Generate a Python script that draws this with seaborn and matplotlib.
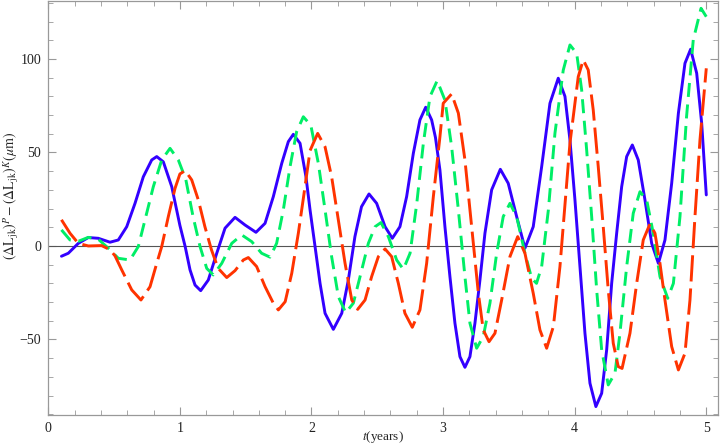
import numpy as np
import pandas as pd
import matplotlib
matplotlib.use("Agg")
import matplotlib.pyplot as plt
import seaborn as sns

# values (t in years, difference in micrometres)
t_blue = [0.1, 0.152, 0.228, 0.304, 0.38, 0.469, 0.532, 0.596, 0.659, 0.722, 0.786, 0.824,
          0.874, 0.938, 1.0, 1.04, 1.077, 1.115, 1.158, 1.216, 1.28, 1.343, 1.419, 1.495,
          1.578, 1.647, 1.71, 1.774, 1.824, 1.862, 1.913, 1.958, 1.989, 2.027, 2.065, 2.103,
          2.166, 2.23, 2.28, 2.33, 2.38, 2.437, 2.495, 2.559, 2.614, 2.672, 2.723, 2.774,
          2.824, 2.868, 2.913, 2.942, 2.976, 3.014, 3.052, 3.09, 3.128, 3.166, 3.204, 3.242,
          3.28, 3.318, 3.369, 3.435, 3.495, 3.559, 3.622, 3.685, 3.749, 3.812, 3.875, 3.926,
          3.964, 4.002, 4.04, 4.078, 4.116, 4.161, 4.205, 4.243, 4.281, 4.319, 4.357, 4.395,
          4.438, 4.483, 4.534, 4.585, 4.636, 4.686, 4.737, 4.788, 4.838, 4.881, 4.927, 4.965, 5.0]
v_blue = [-5.5, -3.9, 1.4, 4.5, 4.1, 2.0, 3.2, 10.3, 22.8, 37, 46, 47.8,
          45, 31.7, 11, -0.3, -12.8, -20.9, -23.9, -18.2, -3.9, 9.5, 15.3, 11.2,
          7.3, 12.1, 26.4, 44.2, 55.8, 59.7, 54.9, 37, 19.3, -0.3, -20, -36,
          -44.6, -36, -18.2, 5, 21, 27.8, 22.8, 10.3, 4.1, 10.3, 26.4, 49.6,
          67.4, 74.2, 67.4, 58, 40.6, 10.3, -16.4, -41.3, -59.2, -64.9, -59.2, -41.3,
          -18.2, 6.8, 30, 41, 33.5, 15.7, -1.2, 10.3, 42.4, 76.3, 89.7, 80,
          56.7, 24.6, -11, -46.7, -73.4, -85.9, -78.8, -55.6, -20, 6.8, 31.7, 47.8,
          54, 46, 24.6, 1.4, -9.3, 3.2, 33.5, 71, 97.7, 105.2, 92.4, 65.6, 27.3]

t_red = [0.1, 0.165, 0.228, 0.304, 0.405, 0.469, 0.507, 0.558, 0.634, 0.704, 0.773, 0.824,
         0.862, 0.912, 0.963, 1.0, 1.04, 1.09, 1.14, 1.19, 1.24, 1.29, 1.356, 1.419,
         1.482, 1.52, 1.583, 1.647, 1.71, 1.748, 1.8, 1.85, 1.9, 1.94, 1.989, 2.047,
         2.103, 2.153, 2.204, 2.255, 2.306, 2.351, 2.407, 2.457, 2.508, 2.559, 2.609, 2.66,
         2.71, 2.766, 2.824, 2.875, 2.926, 2.976, 3.001, 3.065, 3.116, 3.166, 3.217, 3.268,
         3.305, 3.349, 3.394, 3.445, 3.508, 3.567, 3.622, 3.685, 3.736, 3.787, 3.838, 3.888,
         3.926, 3.964, 4.027, 4.065, 4.103, 4.141, 4.179, 4.217, 4.255, 4.293, 4.331, 4.36,
         4.42, 4.471, 4.521, 4.572, 4.61, 4.648, 4.686, 4.737, 4.788, 4.838, 4.876, 4.914,
         4.952, 5.0]
v_red = [14, 6.8, 1.4, 0, 0.2, -2, -5.3, -12.8, -23.5, -28.9, -21.8, -9.3,
         -0.3, 15.7, 30.8, 38.5, 40.3, 35.3, 24.6, 10.3, -2.1, -11.9, -16.9, -13.2,
         -7.5, -6.2, -11, -21.7, -30.6, -34.2, -29.8, -14.6, 6.8, 26.4, 51, 60.2,
         53, 37, 13.9, -9.3, -28.9, -33.9, -28.9, -16.4, -5.7, -1.6, -5.7, -20,
         -36, -43.5, -34.2, -9.3, 26.4, 58.4, 76.3, 81.3, 71, 46, 10.3, -25.3,
         -44.9, -51.2, -46.7, -28.9, -5.7, 5, -3.9, -25.3, -44.9, -54.7, -43.1, -11,
         22, 55, 90.5, 99.5, 94.1, 72.7, 42.4, 10.3, -23.5, -52, -64.5, -65.5,
         -46.7, -20, 3.2, 11.8, 6.8, -9.3, -28.9, -53.8, -66.3, -57.4, -28.9, 15.7,
         56.7, 95]

t_green = [0.1, 0.165, 0.228, 0.304, 0.38, 0.456, 0.532, 0.621, 0.684, 0.735, 0.798, 0.862,
           0.925, 0.988, 1.045, 1.1, 1.153, 1.204, 1.254, 1.318, 1.394, 1.47, 1.546, 1.621,
           1.685, 1.735, 1.786, 1.837, 1.887, 1.938, 1.995, 2.052, 2.103, 2.153, 2.204, 2.26,
           2.318, 2.369, 2.432, 2.483, 2.528, 2.584, 2.647, 2.698, 2.749, 2.8, 2.85, 2.9,
           2.955, 3.014, 3.065, 3.116, 3.166, 3.204, 3.255, 3.305, 3.356, 3.407, 3.457, 3.508,
           3.559, 3.622, 3.673, 3.71, 3.749, 3.8, 3.85, 3.913, 3.964, 4.015, 4.053, 4.091,
           4.129, 4.167, 4.205, 4.255, 4.306, 4.344, 4.395, 4.445, 4.496, 4.547, 4.597, 4.648,
           4.707, 4.75, 4.8, 4.85, 4.901, 4.96, 5.0]
v_green = [8.6, 3.2, 2.5, 4.6, 3.6, -1.2, -6.6, -7.5, -0.3, 14, 31.7, 46,
           52.2, 46, 35.5, 15.7, -0.3, -12, -15.5, -9.3, 1.4, 5.9, 2.3, -3.9,
           -6, 1.4, 19.3, 42.4, 61.1, 69.1, 64.5, 44.2, 19.3, -5.7, -27.1, -35.7,
           -30.6, -16.4, 1.4, 10.3, 12.5, 5, -7.5, -12.5, -3.9, 22.8, 54.9, 79.8,
           88.4, 78, 53, 19.3, -16.4, -41.3, -54.7, -48.5, -30.6, -3.9, 15.7, 22.8,
           15.7, -3.9, -17.3, -20, -11, 19.3, 60.3, 94, 107.5, 103, 83.4, 51.3,
           15.7, -23.5, -55.6, -74.3, -68.1, -46.7, -11, 17.5, 29, 24.6, 6.8, -16.4,
           -28, -20, 15.7, 69.1, 110.2, 127.1, 122.6]

x_ticks = [0, 1, 2, 3, 4, 5]
y_ticks = [-50, 0, 50, 100]

sns.set_style("ticks")
plt.rcParams['font.family'] = ['Liberation Serif', 'DejaVu Serif']
plt.rcParams['mathtext.fontset'] = 'stix'

fig = plt.figure(figsize=(7.2, 4.47), dpi=100)
ax = fig.add_axes([48.3 / 720, 32 / 447, (718 - 48.3) / 720, 414 / 447])

ax.axhline(0, color='#555555', lw=0.8, zorder=1)

sns.lineplot(x=t_blue, y=v_blue, color='#3300ff', linewidth=2.1, estimator=None,
             sort=False, ax=ax)
sns.lineplot(x=t_green, y=v_green, color='#00ee66', linewidth=2.1, estimator=None,
             sort=False, linestyle=(0, (4.8, 2.6)), ax=ax)
sns.lineplot(x=t_red, y=v_red, color='#ff3300', linewidth=2.1, estimator=None,
             sort=False, linestyle=(0, (9, 2.4)), ax=ax)

ax.set_xlim(0, 5.089)
ax.set_ylim(-90.4, 131.0)
ax.set_xticks(x_ticks)
ax.set_yticks(y_ticks)
ax.set_xticks(np.arange(0, 5.09, 0.2), minor=True)
ax.set_yticks(np.arange(-90, 131, 10), minor=True)

for side in ['left', 'bottom', 'top', 'right']:
    ax.spines[side].set_color('#999999')
    ax.spines[side].set_linewidth(0.9)
ax.tick_params(which='both', direction='in', top=True, right=True, color='#999999',
               labelsize=10, labelcolor='#222222', pad=5)
ax.tick_params(which='major', length=6, width=0.8)
ax.tick_params(which='minor', length=3.5, width=0.6)

ax.set_xlabel(r'$t$(years)', fontsize=9.5)
ax.xaxis.set_label_coords(0.5, -0.053)
ax.xaxis.label.set_verticalalignment('center')
ax.set_ylabel(r'$(\Delta\mathrm{L}_{\mathrm{jk}})^{P}-(\Delta\mathrm{L}_{\mathrm{jk}})^{K}(\mu\mathrm{m})$',
              fontsize=10)
ax.yaxis.set_label_coords(-0.054, 0.53)
ax.yaxis.label.set_verticalalignment('center')

fig.savefig('out.png', dpi=100)
